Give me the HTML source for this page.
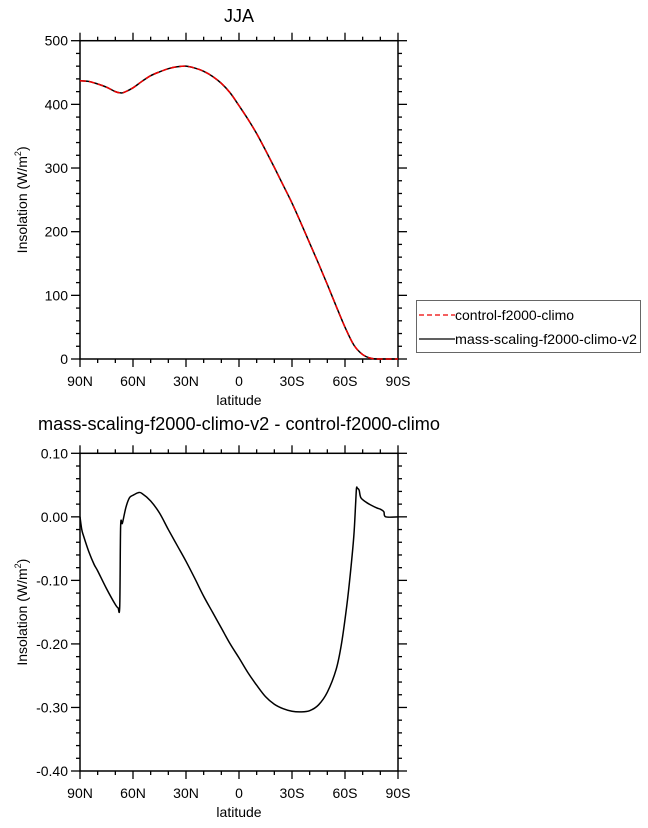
<!DOCTYPE html>
<html><head><meta charset="utf-8"><style>
body{margin:0;background:#fff;}
svg{display:block;font-family:"Liberation Sans",Arial,sans-serif;}
</style></head><body>
<svg id="c" width="648" height="828" viewBox="0 0 648 828"></svg>
<script>
const lats1=[90,85,80,75,70,67,65,60,55,50,45,40,35,30,25,20,15,10,5,0,-5,-10,-15,-20,-25,-30,-35,-40,-45,-50,-55,-60,-65,-70,-75,-80,-85,-90];
const insol=[437,436,432,427,420,418,419,426,436,445,451,456,459,460,457,452,444,433,418,398,377,354,328,301,273,245,214,182,150,117,83,50,22,7,1,0,0,0];
const lats2=[90,89,88,85,82,80,75,70,68.5,67.5,67,66,64,62,60,57,55,50,45,40,35,30,25,20,15,10,5,0,-5,-10,-15,-20,-25,-30,-35,-40,-45,-50,-55,-58,-61,-63,-65,-66,-66.5,-67,-68,-69,-72,-75,-78,-80,-82,-83,-90];
const diff=[0,-0.02,-0.03,-0.055,-0.075,-0.085,-0.113,-0.138,-0.143,-0.14,-0.015,-0.01,0.015,0.03,0.034,0.038,0.037,0.025,0.006,-0.02,-0.045,-0.07,-0.097,-0.125,-0.15,-0.175,-0.2,-0.222,-0.245,-0.265,-0.283,-0.295,-0.302,-0.306,-0.307,-0.305,-0.296,-0.276,-0.24,-0.2,-0.14,-0.09,-0.03,0.02,0.045,0.045,0.042,0.03,0.023,0.018,0.014,0.012,0.008,0.0,0];
const xTicks=[90,60,30,0,-30,-60,-90];
const xLabels=["90N","60N","30N","0","30S","60S","90S"];
const yTicks1=[0,100,200,300,400,500];
const yTicks2=[0.10,0.00,-0.10,-0.20,-0.30,-0.40];
const NS="http://www.w3.org/2000/svg";
const svg=document.getElementById('c');
function el(t,a,txt){const e=document.createElementNS(NS,t);for(const k in a)e.setAttribute(k,a[k]);if(txt!==undefined)e.textContent=txt;svg.appendChild(e);return e;}
const X0=80,X1=398;
const xs=l=>X0+(90-l)/180*(X1-X0);
function smooth(pts){let d='M'+pts[0][0].toFixed(2)+' '+pts[0][1].toFixed(2);
  for(let i=0;i<pts.length-1;i++){const p0=pts[Math.max(0,i-1)],p1=pts[i],p2=pts[i+1],p3=pts[Math.min(pts.length-1,i+2)];
    const c1x=p1[0]+(p2[0]-p0[0])/6,c1y=p1[1]+(p2[1]-p0[1])/6,c2x=p2[0]-(p3[0]-p1[0])/6,c2y=p2[1]-(p3[1]-p1[1])/6;
    d+=` C${c1x.toFixed(2)} ${c1y.toFixed(2)} ${c2x.toFixed(2)} ${c2y.toFixed(2)} ${p2[0].toFixed(2)} ${p2[1].toFixed(2)}`;}
  return d;}
function panel(top,bot,ymin,ymax,yt,fmt,minorStep,pfx){
  const ys=v=>bot-(v-ymin)/(ymax-ymin)*(bot-top);
  for(let l=90;l>=-90;l-=10){const major=l%30===0;const len=major?8:4;const x=xs(l);
    let t=el('line',{x1:x,y1:bot,x2:x,y2:bot+len,stroke:'#000','stroke-width':1.3});
    
    t=el('line',{x1:x,y1:top,x2:x,y2:top-len,stroke:'#000','stroke-width':1.3});
    }
  for(let v=ymin;v<=ymax+1e-9;v+=minorStep){const y=ys(v);
    const major=yt.some(m=>Math.abs(m-v)<1e-6);const len=major?9:4;
    let t=el('line',{x1:X0-len,y1:y,x2:X0,y2:y,stroke:'#000','stroke-width':1.3});
    
    t=el('line',{x1:X1,y1:y,x2:X1+len,y2:y,stroke:'#000','stroke-width':1.3});
    }
  yt.forEach(v=>{const t=el('text',{x:X0-12,y:ys(v)+5,'text-anchor':'end','font-size':14},fmt(v));
    });
  xTicks.forEach((l,i)=>{const t=el('text',{x:xs(l),y:bot+27,'text-anchor':'middle','font-size':14},xLabels[i]);
    });
  let f=el('rect',{x:X0,y:top,width:X1-X0,height:bot-top,fill:'none',stroke:'#000','stroke-width':1.5});
  
  let xl=el('text',{x:(X0+X1)/2,y:bot+46,'text-anchor':'middle','font-size':14},'latitude');
  
  const cy=(top+bot)/2;
  let yl=el('text',{x:0,y:0,'text-anchor':'middle','font-size':14,transform:`translate(27,${cy}) rotate(-90)`});
  
  yl.innerHTML='Insolation (W/m<tspan dy="-6" font-size="9">2</tspan><tspan dy="6">)</tspan>';
  return ys;
}
const ys1=panel(40.7,359,0,500,yTicks1,v=>String(v),20,'top-');
const ys2=panel(453.3,771,-0.4,0.1,yTicks2,v=>v.toFixed(2),0.02,'bottom-');
const d1=smooth(lats1.map((l,i)=>[xs(l),ys1(insol[i])]));
let p=el('path',{d:d1,fill:'none',stroke:'#000','stroke-width':1.5});

p=el('path',{d:d1,fill:'none',stroke:'#e00','stroke-width':1.5,'stroke-dasharray':'6 3'});

const d2=smooth(lats2.map((l,i)=>[xs(l),ys2(diff[i])]));
p=el('path',{d:d2,fill:'none',stroke:'#000','stroke-width':1.5,'stroke-linejoin':'round'});

let t=el('text',{x:239,y:22,'text-anchor':'middle','font-size':18},'JJA');

t=el('text',{x:239,y:430,'text-anchor':'middle','font-size':18,textLength:402,lengthAdjust:'spacingAndGlyphs'},'mass-scaling-f2000-climo-v2 - control-f2000-climo');

let lg=el('rect',{x:416.5,y:300.5,width:224,height:52,fill:'#fff',stroke:'#666','stroke-width':1});

let ll=el('line',{x1:419,y1:315,x2:455,y2:315,stroke:'#e00','stroke-width':1.3,'stroke-dasharray':'5 3'});

t=el('text',{x:455,y:320,'font-size':14},'control-f2000-climo');

ll=el('line',{x1:419,y1:339,x2:455,y2:339,stroke:'#000','stroke-width':1.3});

t=el('text',{x:455,y:344,'font-size':14,textLength:182,lengthAdjust:'spacingAndGlyphs'},'mass-scaling-f2000-climo-v2');

</script>
</body></html>
